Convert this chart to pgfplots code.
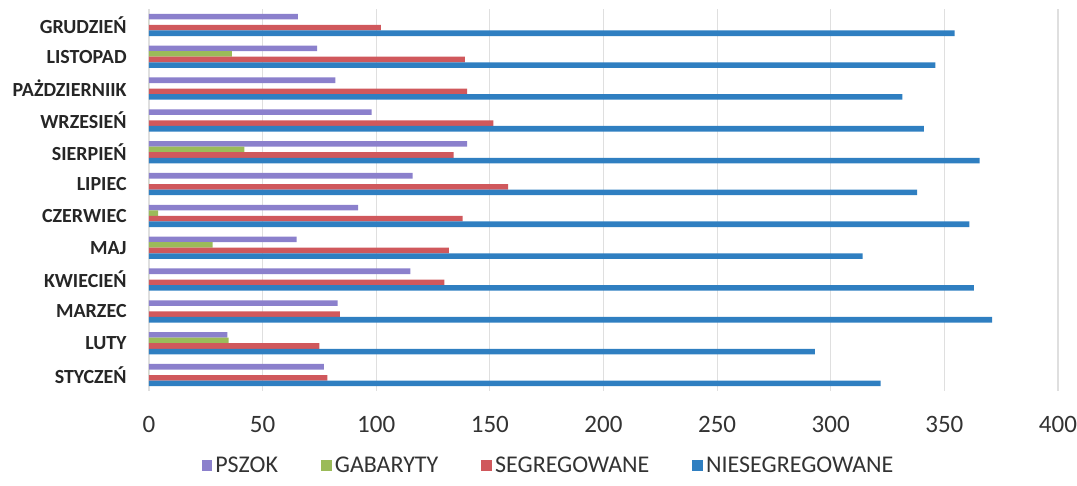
\documentclass[border=0pt]{standalone}
\usepackage{pgfplots}
\pgfplotsset{compat=1.18}
\usepackage{pgfplotstable}
\usepackage{fontspec}
\setmainfont{Carlito}
\definecolor{cpur}{RGB}{139,128,204}
\definecolor{cgrn}{RGB}{155,187,89}
\definecolor{cred}{RGB}{208,88,92}
\definecolor{cblu}{RGB}{47,127,193}
\pgfplotstableread{
y pszok gab seg nies
0 77 0 78.5 322
1 34.5 35 75 293
2 83 0 84 371
3 115 0 130 363
4 65 28 132 314
5 92 4 138 361
6 116 0 158 338
7 140 42 134 365.5
8 98 0 151.5 341
9 82 0 140 331.5
10 74 36.5 139 346
11 65.5 0 102 354.5
}\data
\begin{document}
\begin{tikzpicture}
\begin{axis}[
  name=ax,
  scale only axis,
  width=454.5pt, height=191pt,
  xmin=0, xmax=400,
  ymin=-0.5, ymax=11.5,
  xbar, bar width=0.175,
  xtick={0,50,...,400},
  ytick={0,...,11},
  yticklabels={STYCZEŃ,LUTY,MARZEC,KWIECIEŃ,MAJ,CZERWIEC,LIPIEC,SIERPIEŃ,WRZESIEŃ,PAŻDZIERNIIK,LISTOPAD,GRUDZIEŃ},
  /pgf/number format/assume math mode=true,
  xticklabel style={font=\fontsize{12.5}{14}\selectfont, anchor=center, yshift=-16.5pt, text=black!80},
  yticklabel style={font=\fontsize{10}{12}\selectfont\bfseries, anchor=east, inner sep=0pt, xshift=-11pt, text=black!85},
  major tick length=0pt,
  axis line style={draw=none},
  xmajorgrids, grid style={draw=gray!25, line width=0.6pt},
  legend style={draw=none, at={(0.44,-0.196)}, anchor=center, legend columns=-1,
    font=\fontsize{12}{14}\selectfont, text=black!80,
    /tikz/every even column/.append style={column sep=20pt},
    nodes={inner sep=1.5pt}},
  legend image code/.code={\draw[#1, draw=none] (0pt,-2.7pt) rectangle (5.4pt,2.7pt);},
]
\addplot[fill=cpur, draw=none, bar shift=0.2625] table[x=pszok, y=y] {\data};
\addplot[fill=cgrn, draw=none, bar shift=0.0875] table[x=gab, y=y] {\data};
\addplot[fill=cred, draw=none, bar shift=-0.0875] table[x=seg, y=y] {\data};
\addplot[fill=cblu, draw=none, bar shift=-0.2625] table[x=nies, y=y] {\data};
\legend{PSZOK, GABARYTY, SEGREGOWANE, NIESEGREGOWANE}
\end{axis}
\pgfresetboundingbox
\path[use as bounding box] ([shift={(-74.5pt,-47.5pt)}]ax.south west) rectangle ([shift={(9.5pt,4.5pt)}]ax.north east);
\end{tikzpicture}
\end{document}
